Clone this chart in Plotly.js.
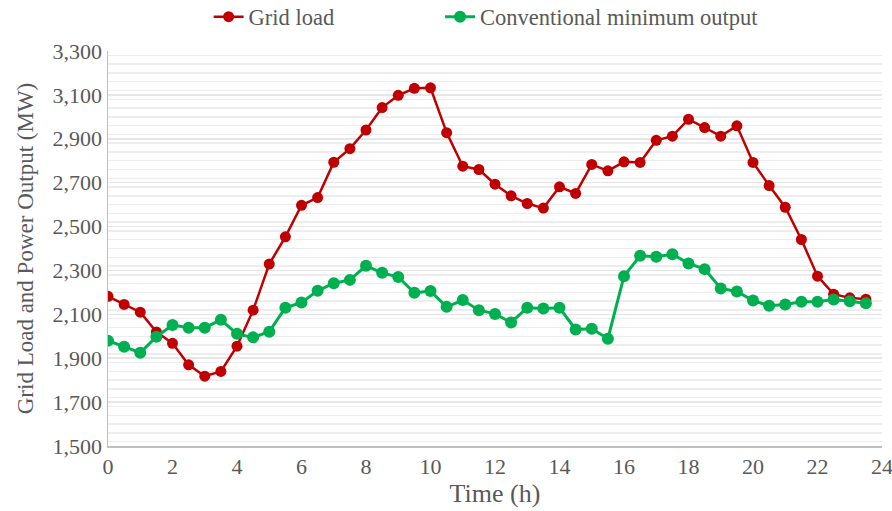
<!DOCTYPE html>
<html>
<head>
<meta charset="utf-8">
<script src="https://cdn.plot.ly/plotly-3.0.1.min.js"></script>
<style>html,body{margin:0;padding:0;background:#fff;}#chart{width:892px;height:511px;}</style>
</head>
<body>
<div id="chart"></div>
<script>
var timeH = [0,0.5,1,1.5,2,2.5,3,3.5,4,4.5,5,5.5,6,6.5,7,7.5,8,8.5,9,9.5,10,10.5,11,11.5,12,12.5,13,13.5,14,14.5,15,15.5,16,16.5,17,17.5,18,18.5,19,19.5,20,20.5,21,21.5,22,22.5,23,23.5];
var gridLoad = [2182,2145,2110,2020,1968,1870,1818,1840,1955,2119,2329,2453,2597,2632,2793,2855,2940,3042,3098,3130,3132,2928,2775,2760,2693,2640,2605,2584,2681,2651,2783,2754,2795,2792,2893,2912,2989,2951,2912,2959,2792,2687,2588,2441,2274,2192,2175,2169];
var convMinOutput = [1980,1952,1925,1998,2051,2039,2039,2075,2011,1995,2021,2130,2154,2207,2242,2257,2321,2289,2270,2198,2206,2134,2165,2119,2102,2063,2130,2127,2130,2031,2034,1989,2274,2367,2362,2374,2332,2306,2218,2204,2163,2139,2145,2157,2157,2168,2160,2150];
var seriesNames = ["Grid load","Conventional minimum output"];
var xTicks = [0,2,4,6,8,10,12,14,16,18,20,22,24];
var yTicks = [1500,1700,1900,2100,2300,2500,2700,2900,3100,3300];

var font = "Liberation Serif, Times New Roman, serif";
var traces = [
  {x: timeH, y: gridLoad, name: seriesNames[0], type: "scatter", mode: "lines+markers", legend: "legend",
   line: {color: "#C00000", width: 2.5}, marker: {color: "#C00000", size: 11}},
  {x: timeH, y: convMinOutput, name: seriesNames[1], type: "scatter", mode: "lines+markers", legend: "legend2",
   line: {color: "#00B050", width: 3}, marker: {color: "#00B050", size: 12}}
];
var legFont = {family: font, size: 22.5, color: "#595959"};
var layout = {
  width: 892, height: 511,
  margin: {l: 108, r: 10, t: 51, b: 65, autoexpand: false},
  paper_bgcolor: "#fff", plot_bgcolor: "#fff",
  font: {family: font, color: "#595959", size: 22},
  showlegend: true,
  legend: {orientation: "h", x: 0.13, xanchor: "left", y: 1.086, yanchor: "middle", font: legFont, bgcolor: "rgba(0,0,0,0)"},
  legend2: {orientation: "h", x: 0.429, xanchor: "left", y: 1.086, yanchor: "middle", font: legFont, bgcolor: "rgba(0,0,0,0)"},
  xaxis: {range: [0, 24], tickvals: xTicks, ticktext: xTicks.map(String), showgrid: false, zeroline: false,
          showline: true, linecolor: "#BFBFBF", linewidth: 1.5, ticks: "", ticklabeloverflow: "allow",
          tickfont: {family: font, size: 22, color: "#595959"},
          title: {text: "Time (h)", font: {family: font, size: 26, color: "#595959"}, standoff: 6}},
  yaxis: {range: [1500, 3300], tickvals: yTicks, tickformat: ",d", showgrid: true, gridcolor: "#E6E6E6", gridwidth: 1.5,
          zeroline: false, showline: true, linecolor: "#BFBFBF", linewidth: 1.5, ticks: "", ticklabeloverflow: "allow",
          minor: {dtick: 40, showgrid: true, gridcolor: "#EDEDED", gridwidth: 1.5},
          tickfont: {family: font, size: 22, color: "#595959"},
          title: {text: "Grid Load and Power Output (MW)", font: {family: font, size: 23, color: "#595959"}, standoff: 12}}
};
Plotly.newPlot("chart", traces, layout, {displayModeBar: false, staticPlot: true});
</script>
</body>
</html>
